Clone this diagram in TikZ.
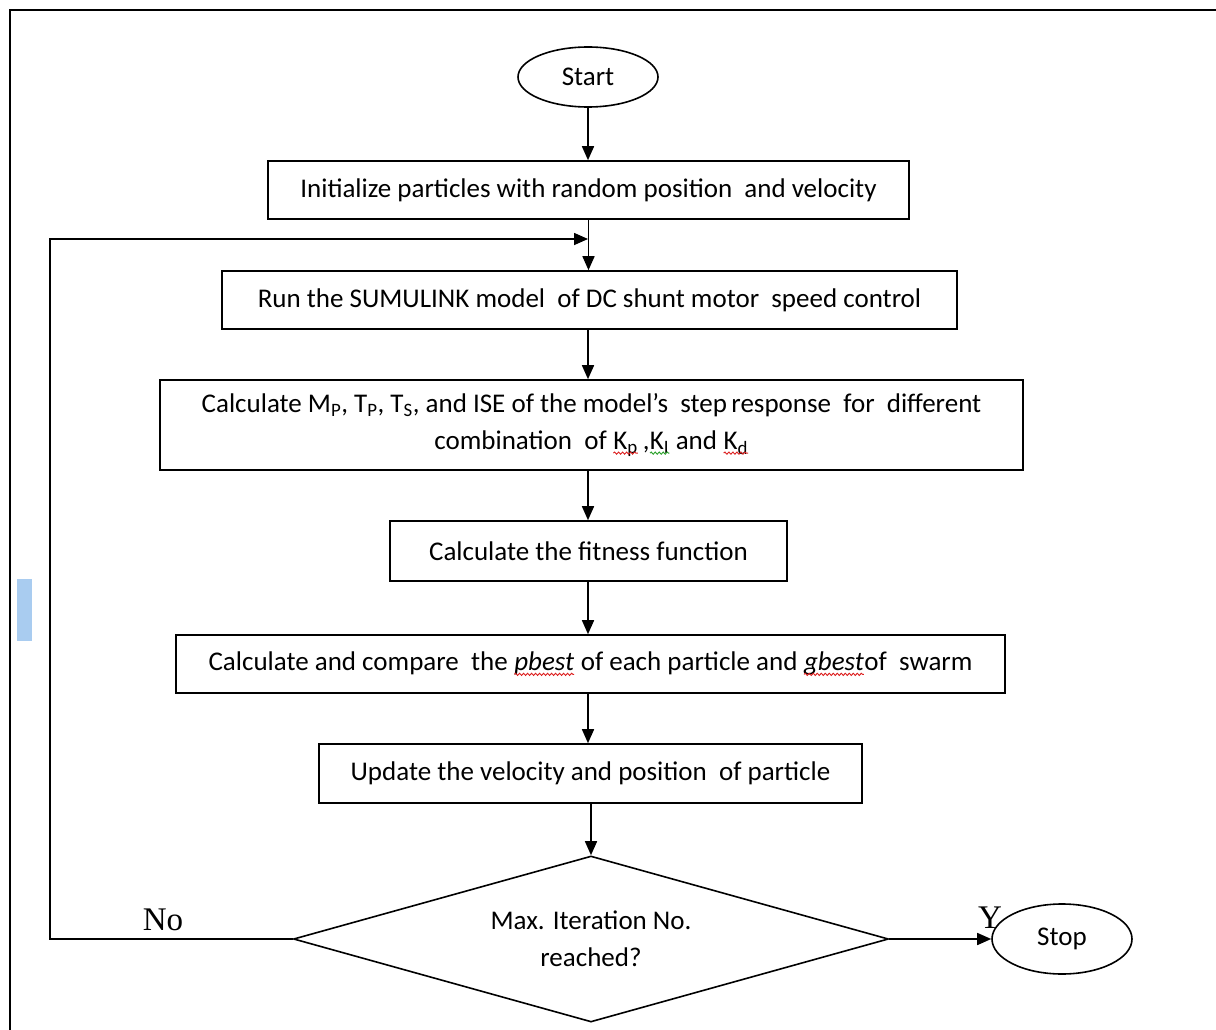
\documentclass[tikz,border=0pt]{standalone}
\usepackage{fontspec}
\setmainfont{Carlito}
\newfontfamily\labelserif{Liberation Serif}
\usetikzlibrary{shapes.geometric,arrows.meta,decorations.pathmorphing}
\definecolor{barblue}{RGB}{169,204,240}
\definecolor{spellred}{RGB}{220,30,30}
\definecolor{spellgreen}{RGB}{40,160,40}

% word with a wavy underline
\newcommand\wavyword[2]{\tikz[baseline=(ww.base)]{%
  \node[shape=rectangle,draw=none,fill=none,inner sep=0pt,outer sep=0pt,
        minimum width=0pt,minimum height=0pt] (ww) {#2};
  \draw[#1,line width=0.9pt,decorate,
        decoration={snake,amplitude=1.1pt,segment length=4pt}]
    ([yshift=-3.5pt]ww.base west) -- ([yshift=-3.5pt]ww.base east);}}

\begin{document}
\begin{tikzpicture}[x=1pt,y=-1pt,
  txt/.style={font=\fontsize{27}{37}\selectfont},
  box/.style={txt,draw,line width=1.6pt,rectangle,inner sep=0pt,align=center},
  oval/.style={txt,draw,line width=1.6pt,ellipse,inner sep=0pt},
  decision/.style={txt,draw,line width=1.6pt,diamond,aspect=3.58,inner sep=0pt,align=center},
  flow/.style={line width=1.6pt,-{Triangle[length=14pt,width=12pt]}},
  lbl/.style={font=\labelserif\fontsize{33}{33}\selectfont,inner sep=0pt}
]
\useasboundingbox (0,0) rectangle (1216,1030);

% page frame and side mark
\draw[line width=2pt] (10,1030) -- (10,10) -- (1216,10);
\fill[barblue] (17,579) rectangle (32,641);

% flowchart nodes
\node[oval,minimum width=140pt,minimum height=60pt] (start) at (588,77) {Start};
\node[box,minimum width=641pt,minimum height=58pt] (init) at (588.5,190)
  {Initialize particles with random position\ \ and velocity};
\node[box,minimum width=735pt,minimum height=58pt] (run) at (589.5,300)
  {Run the SUMULINK model\ \ of DC shunt motor\ \ speed control};
\node[box,minimum width=863pt,minimum height=90pt] (calc) at (591.5,425)
  {Calculate M\textsubscript{P}, T\textsubscript{P}, T\textsubscript{S}, and ISE of the model's\ \ step\,response\ \ for\ \ different\\
   combination\ \ of \wavyword{spellred}{K\textsubscript{p}}\,,\wavyword{spellgreen}{K\textsubscript{I}} and \wavyword{spellred}{K\textsubscript{d}}};
\node[box,minimum width=397pt,minimum height=60pt] (fit) at (588.5,551)
  {Calculate the fitness function};
\node[box,minimum width=829pt,minimum height=58pt] (cmp) at (590.5,664)
  {Calculate and compare\ \ the \wavyword{spellred}{\itshape pbest} of each particle and \wavyword{spellred}{\itshape gbest}of\ \ swarm};
\node[box,minimum width=543pt,minimum height=59pt] (upd) at (590.5,773.5)
  {Update the velocity\ and position\ \ of particle};
\node[decision,minimum width=595pt,minimum height=166pt] (dia) at (591,939)
  {Max. Iteration No.\\ reached?};
\node[oval,minimum width=140pt,minimum height=70pt] (stop) at (1062,939) {Stop};

% branch labels
\node[lbl] (no) at (163,920) {No};
\node[lbl] (yes) at (990,918) {Y};

% loop-back corner and merge point
\coordinate (merge) at (588,239);
\coordinate (corner) at (50,939);

% connectors
\draw[flow] (start.south) -- (start.south |- init.north);
\draw[flow] (init.south) -- (init.south |- run.north);
\draw[flow] (run.south -| merge) -- (merge |- calc.north);
\draw[flow] (calc.south -| merge) -- (merge |- fit.north);
\draw[flow] (fit.south -| merge) -- (merge |- cmp.north);
\draw[flow] (cmp.south -| merge) -- (merge |- upd.north);
\draw[flow] (upd.south -| dia.north) -- (dia.north);
\draw[flow] (dia.west) -- (corner) |- (merge);
\draw[flow] (dia.east) -- (stop.west);
\end{tikzpicture}
\end{document}
